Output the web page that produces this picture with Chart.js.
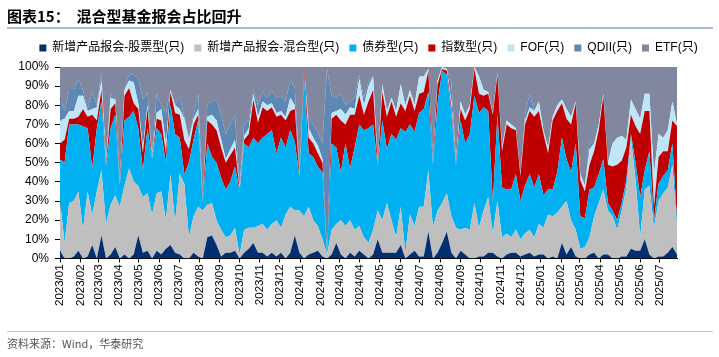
<!DOCTYPE html>
<html><head><meta charset="utf-8">
<script src="https://cdn.jsdelivr.net/npm/chart.js@4"></script>
<style>
html,body{margin:0;padding:0;background:#fff;}
#wrap{position:relative;width:719px;height:357px;overflow:hidden;}
#title{position:absolute;left:7px;top:5px;font:bold 15px 'Noto Sans CJK SC',sans-serif;color:#000;white-space:nowrap;}
#tline{position:absolute;left:7px;top:27px;width:706px;height:2px;background:#A9BBD3;}
#sline{position:absolute;left:7px;top:331px;width:706px;height:1px;background:#B5C4DA;}
#source{position:absolute;left:7px;top:335px;font:11px 'Noto Sans CJK SC',sans-serif;color:#555;white-space:nowrap;}
canvas{position:absolute;left:0;top:0;}
</style></head>
<body><div id="wrap">
<canvas id="c" width="719" height="357"></canvas>
<div id="title">图表15：&nbsp;&nbsp;混合型基金报会占比回升</div>
<div id="tline"></div>
<div id="sline"></div>
<div id="source">资料来源：Wind，华泰研究</div>
</div>
<script>
const weeks = [
'2023/01/01','2023/01/08','2023/01/15','2023/01/22','2023/01/29',
'2023/02/05','2023/02/12','2023/02/19','2023/02/26',
'2023/03/05','2023/03/12','2023/03/19','2023/03/26',
'2023/04/02','2023/04/09','2023/04/16','2023/04/23','2023/04/30',
'2023/05/07','2023/05/14','2023/05/21','2023/05/28',
'2023/06/04','2023/06/11','2023/06/18','2023/06/25',
'2023/07/02','2023/07/09','2023/07/16','2023/07/23','2023/07/30',
'2023/08/06','2023/08/13','2023/08/20','2023/08/27',
'2023/09/03','2023/09/10','2023/09/17','2023/09/24',
'2023/10/01','2023/10/08','2023/10/15','2023/10/22','2023/10/29',
'2023/11/05','2023/11/12','2023/11/19','2023/11/26',
'2023/12/03','2023/12/10','2023/12/17','2023/12/24','2023/12/31',
'2024/01/07','2024/01/14','2024/01/21','2024/01/28',
'2024/02/04','2024/02/11','2024/02/18','2024/02/25',
'2024/03/03','2024/03/10','2024/03/17','2024/03/24','2024/03/31',
'2024/04/07','2024/04/14','2024/04/21','2024/04/28',
'2024/05/05','2024/05/12','2024/05/19','2024/05/26',
'2024/06/02','2024/06/09','2024/06/16','2024/06/23','2024/06/30',
'2024/07/07','2024/07/14','2024/07/21','2024/07/28',
'2024/08/04','2024/08/11','2024/08/18','2024/08/25',
'2024/09/01','2024/09/08','2024/09/15','2024/09/22','2024/09/29',
'2024/10/06','2024/10/13','2024/10/20','2024/10/27',
'2024/11/03','2024/11/10','2024/11/17','2024/11/24',
'2024/12/01','2024/12/08','2024/12/15','2024/12/22','2024/12/29',
'2025/01/05','2025/01/12','2025/01/19','2025/01/26',
'2025/02/02','2025/02/09','2025/02/16','2025/02/23',
'2025/03/02','2025/03/09','2025/03/16','2025/03/23','2025/03/30',
'2025/04/06','2025/04/13','2025/04/20','2025/04/27',
'2025/05/04','2025/05/11','2025/05/18','2025/05/25',
'2025/06/01','2025/06/08','2025/06/15','2025/06/22','2025/06/29',
'2025/07/06','2025/07/13','2025/07/20','2025/07/27'];

const monthLabels = ['2023/01','2023/02','2023/03','2023/04','2023/05','2023/06','2023/07','2023/08','2023/09','2023/10','2023/11','2023/12',
'2024/01','2024/02','2024/03','2024/04','2024/05','2024/06','2024/07','2024/08','2024/09','2024/10','2024/11','2024/12',
'2025/01','2025/02','2025/03','2025/04','2025/05','2025/06','2025/07'];

const seriesNames = ['新增产品报会-股票型(只)','新增产品报会-混合型(只)','债券型(只)','指数型(只)','FOF(只)','QDII(只)','ETF(只)'];

// shares of each category (%), one value per week
const stock = [4,0,0,1,4,0,1,7,0,12, 0,2,6,0,2,0,2,12,3,4, 0,4,2,5,7,3,2,0,0,3, 1,0,11,12,7,1,3,3,4,0,
 3,5,8,3,3,1,3,1,3,0, 3,12,3,0,2,3,4,1,0,2, 8,2,0,3,1,4,2,0,2,10, 3,3,3,3,7,0,2,4,1,1,
 14,0,3,8,14,3,0,4,2,0, 0,1,1,3,3,1,0,2,3,3, 1,2,3,1,2,2,0,1,0,8, 2,6,1,0,0,2,3,0,2,2,
 0,0,1,1,5,4,4,10,2,0, 1,1,3,6,2];
const mixed = [26,8,29,29,31,15,34,16,35,34, 18,26,27,27,36,47,38,26,29,30, 23,30,33,15,37,16,42,39,11,19,
 26,25,17,17,13,14,8,9,12,2, 12,11,8,14,15,14,15,19,13,23, 24,13,22,22,25,17,13,9,2,13,
 10,18,17,17,14,13,9,8,13,15, 17,26,17,8,20,3,21,13,26,26, 32,16,22,21,20,19,16,11,14,15,
 29,15,24,29,10,29,11,11,8,12, 9,11,12,10,16,14,23,21,24,19, 28,14,14,5,6,9,19,29,34,23,
 22,15,24,36,58,37,7,26,36,16, 29,33,34,43,14];
const bond = [22,42,41,40,35,54,33,24,33,36, 30,40,42,11,34,27,37,30,14,34, 29,34,30,30,36,46,19,5,39,40,
 45,4,32,24,30,27,25,28,32,33, 45,42,47,43,45,50,49,35,47,35, 40,36,17,73,28,33,31,35,0,45,
 40,25,43,27,43,53,56,60,55,23, 52,28,45,51,41,63,47,49,49,51, 41,33,56,69,62,54,33,57,44,50,
 56,60,54,45,16,45,26,23,25,29, 20,25,29,26,26,17,13,14,21,36, 22,25,45,17,15,25,15,15,16,4,
 3,5,4,4,2,9,21,10,18,4, 9,9,9,11,4];
const indexF = [8,12,3,3,4,9,6,28,4,6, 1,10,6,1,13,15,4,10,9,10, 0,5,7,5,7,11,12,18,7,8,
 3,1,12,17,17,16,14,14,10,1, 2,7,20,11,16,12,12,19,12,14, 10,17,1,4,8,7,7,5,1,13,
 17,27,10,28,17,15,8,14,18,1, 15,17,17,12,13,11,15,11,10,9, 11,1,10,1,2,3,1,6,12,13,
 14,10,6,9,46,21,19,34,32,23, 13,32,33,37,33,32,19,36,32,18, 21,25,21,19,14,13,19,23,33,20,
 23,29,22,17,10,19,33,31,21,7, 14,13,10,12,49];
const fof = [12,11,4,4,11,7,3,3,7,5, 1,6,2,1,3,4,11,3,3,2, 1,3,6,5,1,4,3,11,5,3,
 3,0,2,5,5,4,2,3,4,1, 2,3,3,3,3,3,2,2,2,2, 7,2,1,0,5,3,4,2,0,3,
 2,6,5,4,3,9,5,8,7,1, 4,3,2,3,10,3,3,3,9,8, 1,1,2,1,1,3,1,4,3,2,
 1,9,3,1,1,1,2,2,2,1, 1,2,2,3,5,2,3,2,3,2, 5,4,1,3,3,8,4,3,1,1,
 12,14,13,4,8,9,8,9,9,17, 12,7,11,10,1];
const qdii = [12,4,11,11,9,3,1,9,1,4, 1,2,1,1,0,3,4,13,25,7, 2,10,2,16,0,0,7,1,1,2,
 8,2,7,7,11,13,13,13,13,1, 6,4,2,6,5,4,7,8,8,8, 9,9,2,0,4,7,7,8,96,9,
 7,8,5,3,6,2,4,2,0,0, 0,0,0,0,0,0,0,0,0,0, 0,0,0,0,0,10,0,0,0,0,
 0,0,0,0,0,0,0,0,0,0, 0,3,7,0,0,0,0,0,0,0, 0,0,0,0,0,4,0,0,0,0,
 0,0,0,0,0,0,0,0,0,0, 0,0,0,0,0];
const etf = [16,23,12,12,6,12,22,13,20,3, 49,14,16,59,12,4,4,6,17,13, 45,14,20,24,12,20,15,26,37,25,
 14,68,19,18,17,25,35,30,25,62, 30,28,12,20,13,16,12,16,15,18, 7,11,54,1,28,30,34,40,1,15,
 16,14,20,18,16,4,16,8,5,50, 9,23,16,23,9,20,12,20,5,5, 1,49,7,0,1,8,49,18,25,20,
 0,5,12,13,24,3,42,28,30,32, 56,25,14,23,18,33,42,26,20,17, 22,26,18,56,62,39,40,30,14,50,
 40,37,36,38,17,22,27,14,14,56, 35,37,33,18,30];

const colors = ['#00306F','#BFBFBF','#00B0F0','#C00000','#BFE6F8','#5F87B4','#80879F'];

function dayNum(s){const p=s.split('/');return (Date.UTC(+p[0],+p[1]-1,+p[2])-Date.UTC(2023,0,1))/86400000;}
const xs = weeks.map(dayNum);
const monthDays = monthLabels.map(m=>dayNum(m+'/01'));
const all = [stock,mixed,bond,indexF,fof,qdii,etf];

Chart.defaults.font.family = "'Liberation Sans','Noto Sans CJK SC',sans-serif";
Chart.defaults.color = '#000';

const legendGap = {
  id:'legendGap',
  beforeInit(chart){
    const lg = chart.legend;
    if(!lg) return;
    const f = lg.fit.bind(lg);
    lg.fit = function(){ f(); this.height += 3; };
  }
};

new Chart(document.getElementById('c'), {
  type:'line',
  data:{datasets: all.map((arr,k)=>({
    label: seriesNames[k],
    data: arr.map((v,i)=>({x:xs[i], y:v})),
    backgroundColor: colors[k], borderColor: colors[k], borderWidth:0,
    pointRadius:0, fill: k===0?'origin':'-1', tension:0
  }))},
  options:{
    responsive:false, animation:false,
    layout:{padding:{top:32,left:18,right:0,bottom:49}},
    plugins:{
      tooltip:{enabled:false},
      legend:{position:'top', labels:{boxWidth:7, boxHeight:7, font:{size:12}, color:'#000', padding:10}}
    },
    scales:{
      x:{type:'linear', min:0, max:xs[xs.length-1],
        afterBuildTicks: s=>{ s.ticks = monthDays.map(v=>({value:v})); },
        ticks:{autoSkip:false, minRotation:90, maxRotation:90, font:{size:11.5}, color:'#000', padding:2,
          callback:(v)=>{const i=monthDays.indexOf(v); return i>=0?monthLabels[i]:'';}},
        grid:{display:true, drawOnChartArea:false, drawTicks:true, tickLength:4, color:'#000'},
        border:{display:true, color:'#000'}
      },
      y:{stacked:true, min:0, max:100,
        afterFit: s=>{ s.width = 42; },
        ticks:{stepSize:10, padding:6, callback:v=>v+'%', font:{size:12}, color:'#000'},
        grid:{display:true, drawOnChartArea:false, tickLength:5, color:'#000'},
        border:{display:true, color:'#000'}
      },
      yR:{position:'right', display:true, min:0, max:100,
        afterFit: s=>{ s.width = 42; },
        ticks:{display:false}, grid:{display:false}, border:{display:false}
      }
    }
  },
  plugins:[legendGap]
});
</script>
</body></html>
